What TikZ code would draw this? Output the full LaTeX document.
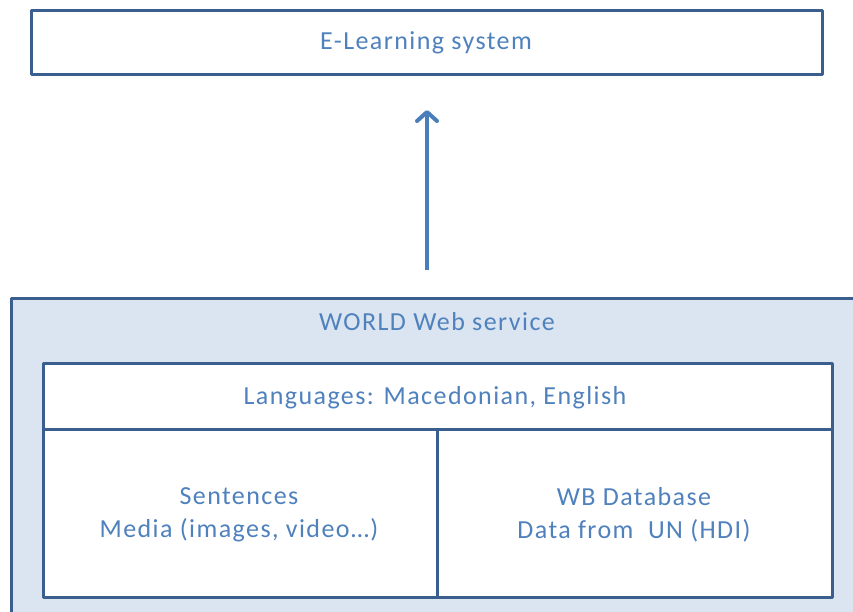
\documentclass[tikz,border=0pt]{standalone}
\usepackage{fontspec}
\setmainfont[LetterSpace=5.5]{Carlito}
\usetikzlibrary{arrows.meta}
\definecolor{edgeblue}{HTML}{3A5F8F}
\definecolor{fillblue}{HTML}{DBE5F1}
\definecolor{textblue}{HTML}{4F81BD}
\definecolor{arrowblue}{HTML}{4A7EBB}
\tikzset{
  panel/.style={draw=edgeblue, line width=3pt, line join=round},
  lbl/.style={text=textblue, font=\fontsize{26}{33}\selectfont, align=center, inner sep=0pt},
}
\begin{document}
\begin{tikzpicture}[x=1pt, y=-1pt]
\useasboundingbox (0,0) rectangle (853,611);
\clip (0,0) rectangle (853,611);
% outer web-service panel, running off the page edge
\draw[panel, fill=fillblue] (11,298) rectangle (870,630);
% inner table
\draw[panel, fill=white] (43,363) rectangle (832,597);
\draw[panel] (43,429) -- (832,429);
\draw[panel] (437,429) -- (437,597);
% top box
\draw[panel, fill=white] (31,10) rectangle (822,74);
\node[lbl] (elearn) at (426,43) {E-Learning system};
\node[lbl] (world) at (437,322) {WORLD Web service};
\node[lbl] (lang) at (435,398) {Languages: Macedonian,\ English};
\node[lbl] (sent) at (239,515) {Sentences\\Media (images, video…)};
\node[lbl] (wb) at (634,515) {WB Database\\Data from\ \ UN (HDI)};
\coordinate (tail) at (427,270);
\coordinate (tip) at (427,110);
\draw[arrowblue, line width=4pt, -{Straight Barb[length=9pt, width=20pt, line cap=round, line join=round]}] (tail) -- (tip);
\end{tikzpicture}
\end{document}
